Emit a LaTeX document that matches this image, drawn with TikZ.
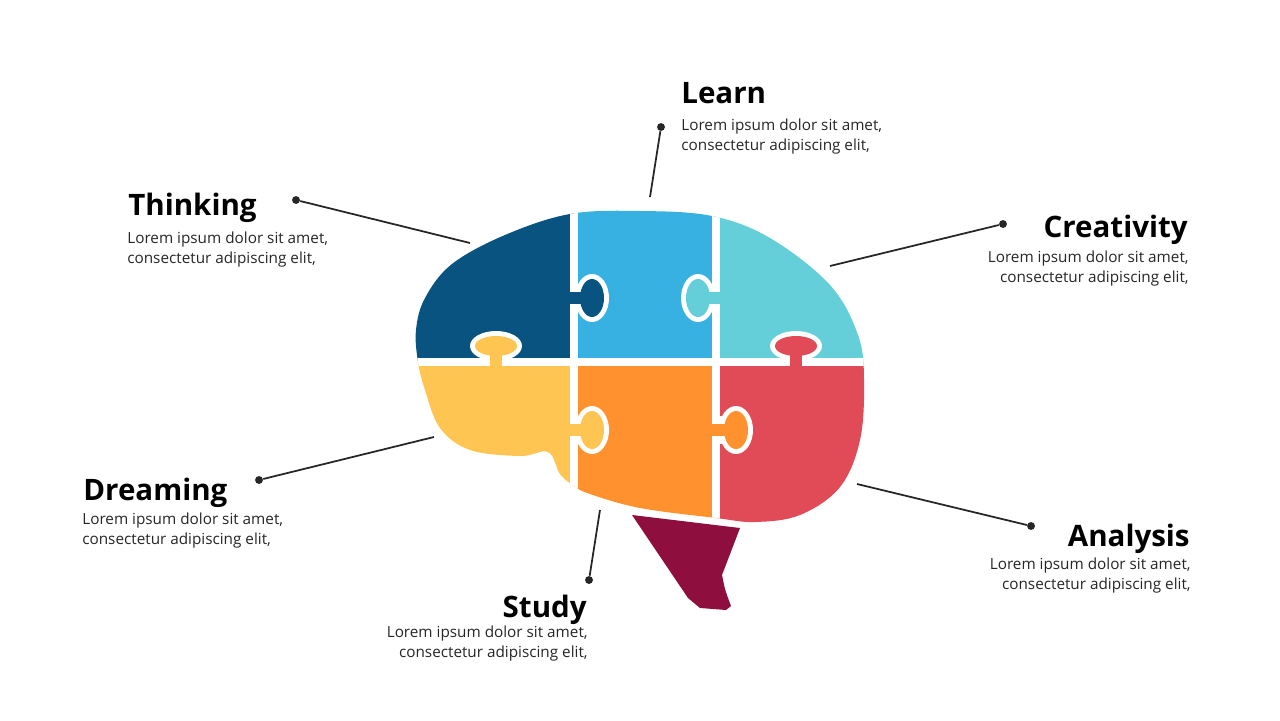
\documentclass[tikz,border=0pt]{standalone}
\usepackage{fontspec}
\setmainfont{Open Sans}
\definecolor{cThink}{HTML}{08537F}
\definecolor{cLearn}{HTML}{36B1E2}
\definecolor{cCreat}{HTML}{64CFD9}
\definecolor{cDream}{HTML}{FFC552}
\definecolor{cStudy}{HTML}{FF922E}
\definecolor{cAnaly}{HTML}{E14A57}
\definecolor{cStem}{HTML}{8E0F3E}
\tikzset{
	title/.style = {font=\bfseries\fontsize{16.8}{18}\selectfont, inner sep=0},
	body/.style = {font=\fontsize{8.7}{11.3}\selectfont, inner sep=0, text=black!85},
	dot/.style = {circle, fill=black!85, inner sep=0, minimum size=4.5pt},
	lead/.style = {black!85, line width=1pt},
	seam/.style = {white, line width=4.6pt},
}
% knob: centre x, y, radii, colour, neck box (white), neck box (colour)
\newcommand{\knob}[7]{%
	\fill[white] (#1,#2) ellipse ({#3+5} and {#4+5});
	\fill[white] #6;
	\fill[#5] (#1,#2) ellipse (#3 and #4);
	\fill[#5] #7;
}
\begin{document}
\begin{tikzpicture}[x=0.02cm, y=-0.02cm]
	\useasboundingbox (0,0) rectangle (1280,720);

	% brain
	\begin{scope}
		\clip plot[smooth cycle, tension=0.6] coordinates {(418,362) (416,330) (425,298) (452,264) (505,235) (570,214) (640,211) (712,216) (770,238) (830,285) (858,335) (864,380) (860,440) (840,487) (800,515) (755,522) (716,518) (640,508) (590,494) (574,486) (560,474) (548,452) (520,456) (470,450) (440,428) (425,390)};
		\fill[cThink] (400,190) rectangle (574,362);
		\fill[cLearn] (574,190) rectangle (716,362);
		\fill[cCreat] (716,190) rectangle (880,362);
		\fill[cDream] (400,362) rectangle (574,540);
		\fill[cStudy] (574,362) rectangle (716,540);
		\fill[cAnaly] (716,362) rectangle (880,540);
		\draw[seam] (400,362) -- (880,362);
		\draw[seam] (574,190) -- (574,540);
		\draw[seam] (716,190) -- (716,540);
	\end{scope}

	% knobs
	\knob{592}{298}{12}{19}{cThink}{(576,284) rectangle (586,312)}{(570,292) rectangle (588,304)}
	\knob{698}{298}{12}{19}{cCreat}{(704,284) rectangle (714,312)}{(702,292) rectangle (720,304)}
	\knob{496}{346}{21}{10}{cDream}{(482,352) rectangle (510,360)}{(490,348) rectangle (502,366)}
	\knob{796}{346}{21}{10}{cAnaly}{(782,352) rectangle (810,360)}{(790,348) rectangle (802,366)}
	\knob{592}{430}{12}{19}{cDream}{(576,416) rectangle (586,444)}{(570,424) rectangle (588,436)}
	\knob{736}{430}{12}{19}{cStudy}{(718,416) rectangle (728,444)}{(712,424) rectangle (730,436)}

	% stem
	\fill[cStem] (632,515) -- (740,528) -- (722,575) .. controls (725,590) .. (731,606) -- (726,610) -- (700,608) -- (688,598) -- cycle;

	% labels
	\node[title, anchor=base west] (thinkT) at (128,215) {Thinking};
	\node[body, anchor=north west] (thinkB) at (127,232) [align=left] {Lorem ipsum dolor sit amet,\\consectetur adipiscing elit,};
	\node[title, anchor=base west] (learnT) at (681,103) {Learn};
	\node[body, anchor=north west] (learnB) at (681,119) [align=left] {Lorem ipsum dolor sit amet,\\consectetur adipiscing elit,};
	\node[title, anchor=base east] (creatT) at (1188,237) {Creativity};
	\node[body, anchor=north east] (creatB) at (1189,251) [align=right] {Lorem ipsum dolor sit amet,\\consectetur adipiscing elit,};
	\node[title, anchor=base west] (dreamT) at (83,500) {Dreaming};
	\node[body, anchor=north west] (dreamB) at (82,513) [align=left] {Lorem ipsum dolor sit amet,\\consectetur adipiscing elit,};
	\node[title, anchor=base east] (studyT) at (587,617) {Study};
	\node[body, anchor=north east] (studyB) at (588,626) [align=right] {Lorem ipsum dolor sit amet,\\consectetur adipiscing elit,};
	\node[title, anchor=base east] (analyT) at (1190,546) {Analysis};
	\node[body, anchor=north east] (analyB) at (1191,558) [align=right] {Lorem ipsum dolor sit amet,\\consectetur adipiscing elit,};

	% leaders
	\node[dot] (thinkD) at (296,200) {};
	\coordinate (thinkE) at (470,243);
	\node[dot] (learnD) at (661,127) {};
	\coordinate (learnE) at (650,197);
	\node[dot] (creatD) at (1003,224) {};
	\coordinate (creatE) at (830,266);
	\node[dot] (dreamD) at (259,480) {};
	\coordinate (dreamE) at (434,437);
	\node[dot] (studyD) at (589,580) {};
	\coordinate (studyE) at (600,510);
	\node[dot] (analyD) at (1031,526) {};
	\coordinate (analyE) at (857,484);
	\foreach \n in {think,learn,creat,dream,study,analy}
		\draw[lead] (\n D) -- (\n E);
\end{tikzpicture}
\end{document}
